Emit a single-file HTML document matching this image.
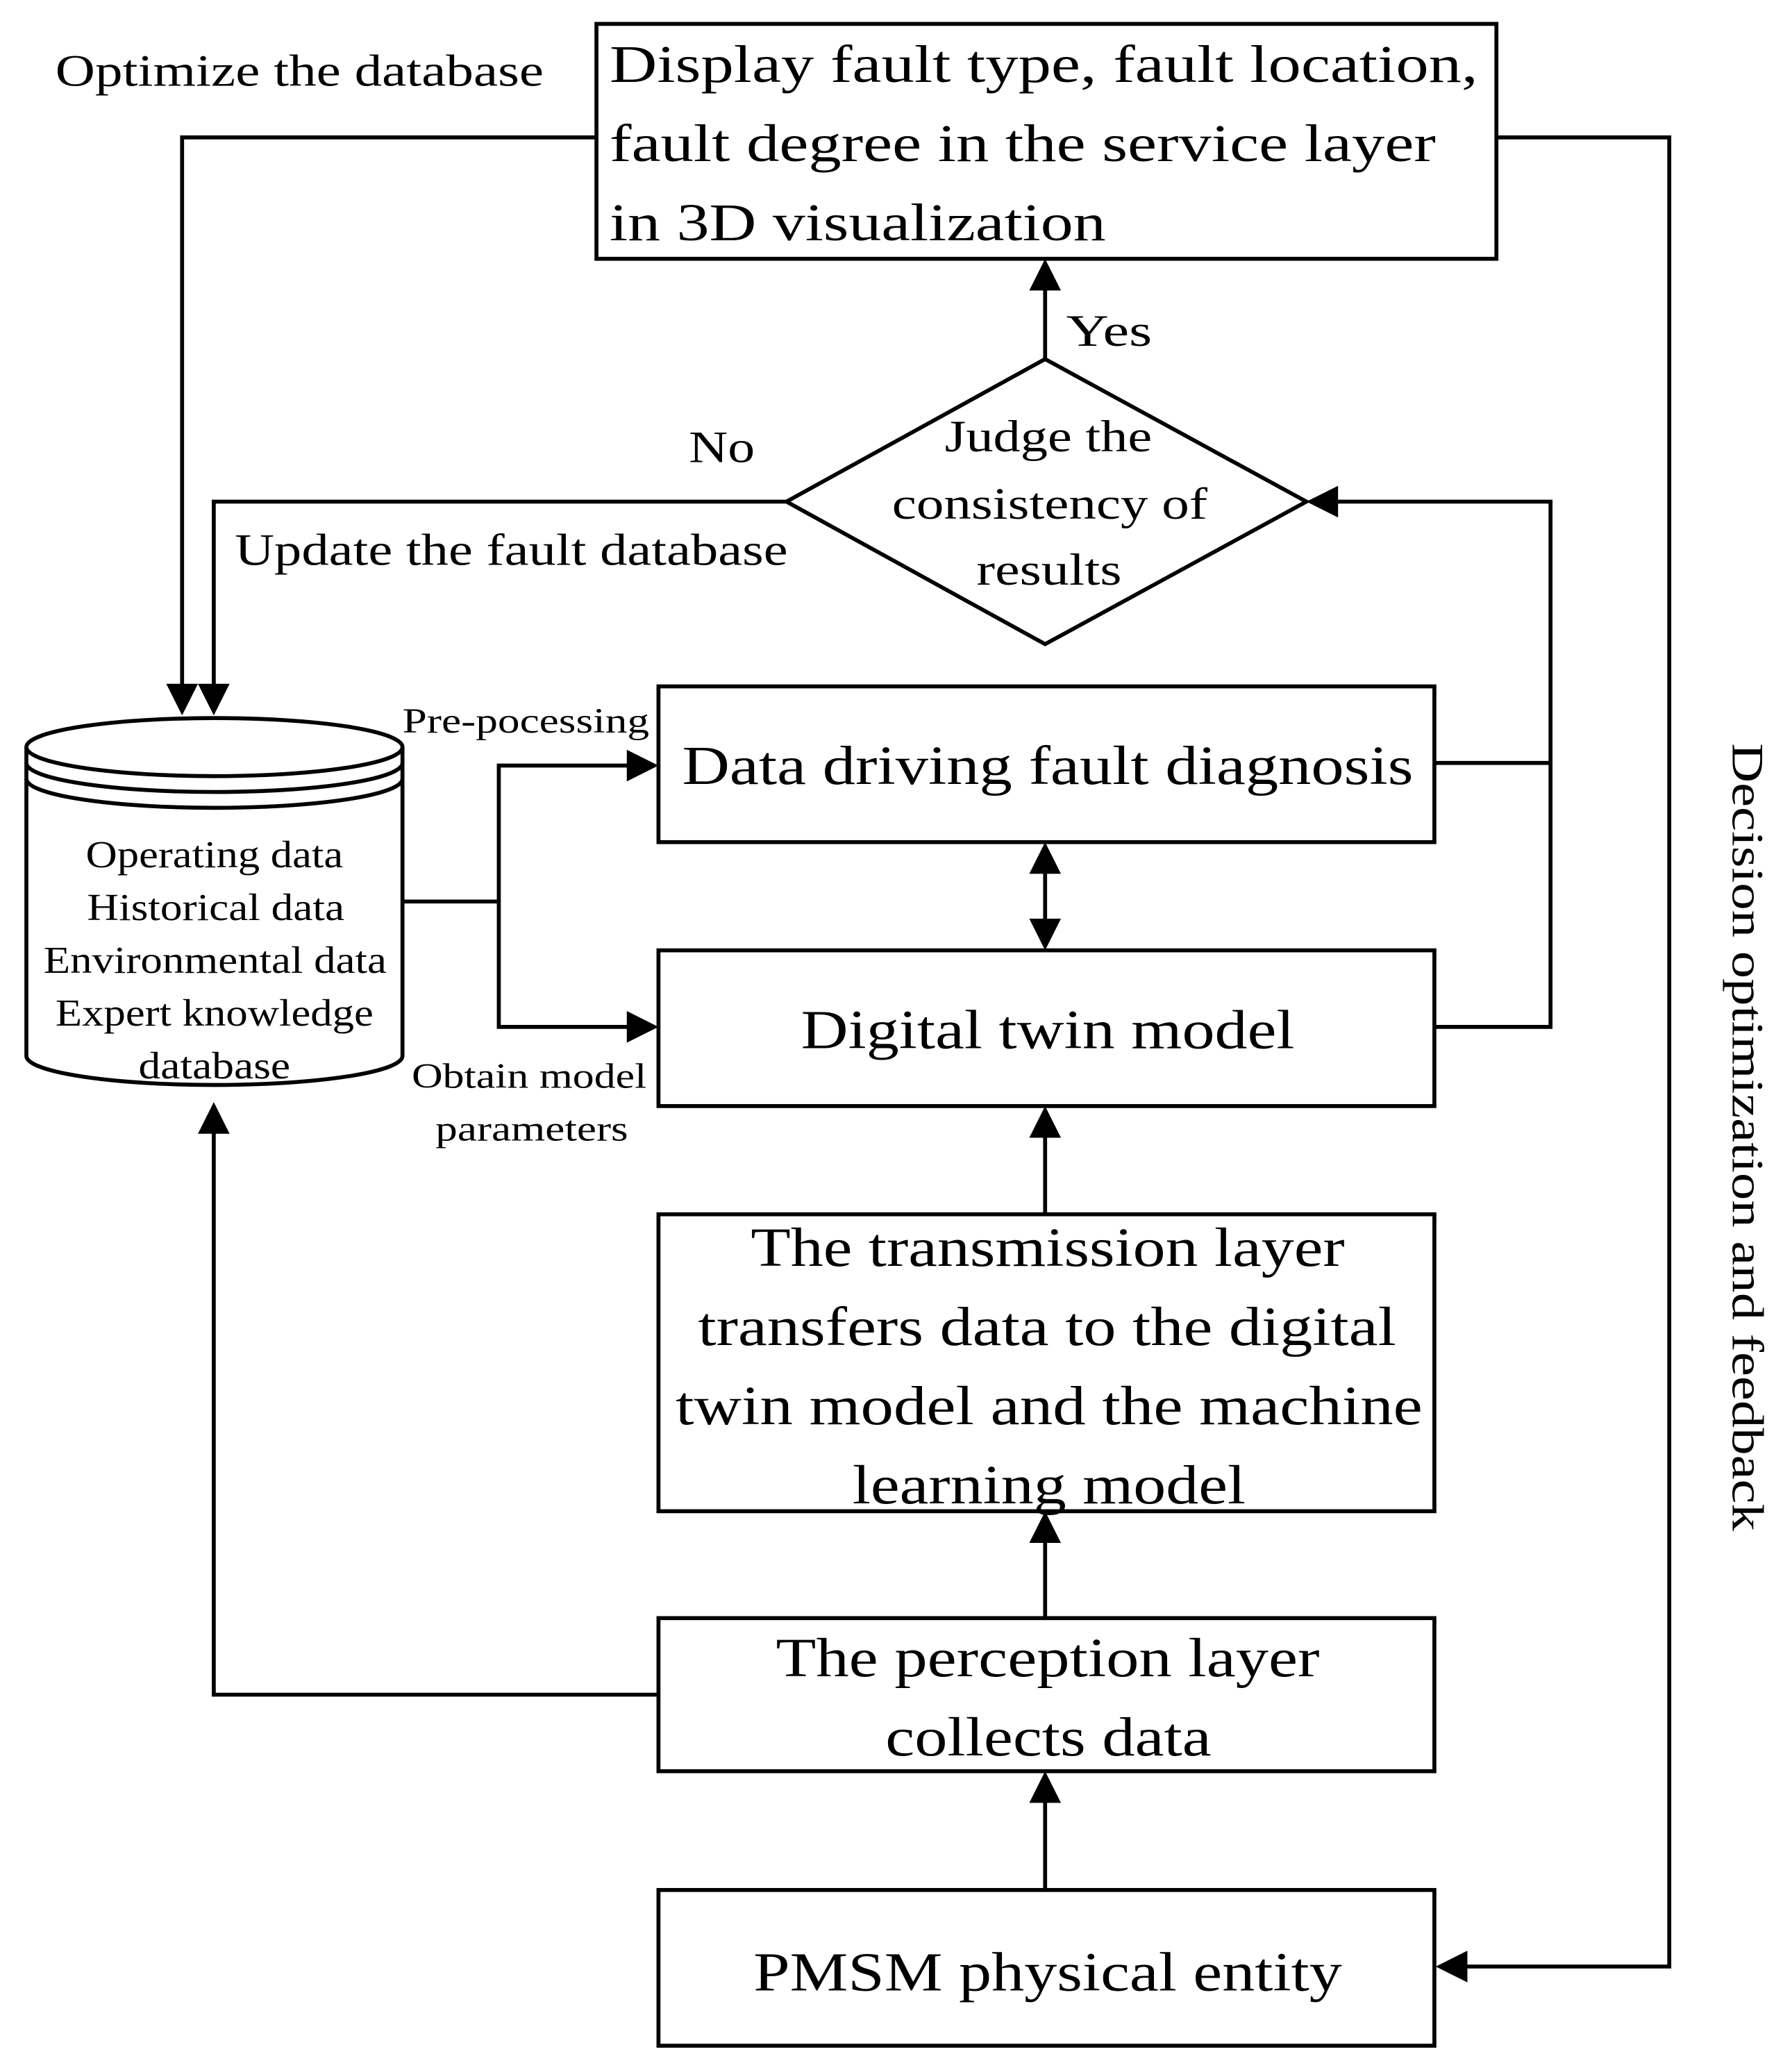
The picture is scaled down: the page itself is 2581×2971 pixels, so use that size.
<!DOCTYPE html>
<html><head><meta charset="utf-8"><style>
html,body{margin:0;padding:0;background:#fff;}
svg{display:block;}
text{font-family:"Liberation Serif",serif;fill:#000;}
</style></head><body>
<svg width="2581" height="2971" viewBox="0 0 1358 1563" xmlns="http://www.w3.org/2000/svg">
<rect width="1358" height="1563" fill="#fff"/>
<g fill="none" stroke="#000" stroke-width="3">
<rect x="452" y="18" width="682" height="178"/>
<rect x="499" y="520" width="588" height="118"/>
<rect x="499" y="720" width="588" height="118"/>
<rect x="499" y="920" width="588" height="225"/>
<rect x="499" y="1226" width="588" height="116"/>
<rect x="499" y="1432" width="588" height="118"/>
<polygon points="792,272 990,380 792,488 596,380"/>
<path d="M20,566 L20,800 A142.5,22 0 0 0 305,800 L305,566"/>
<ellipse cx="162.5" cy="566" rx="142.5" ry="22" fill="#fff"/>
<path d="M20,578 A142.5,22 0 0 0 305,578"/>
<path d="M20,590 A142.5,22 0 0 0 305,590"/>
<polyline points="452,104 138,104 138,520"/>
<polyline points="1134,104 1265,104 1265,1490 1110,1490"/>
<line x1="792" y1="272" x2="792" y2="218"/>
<polyline points="596,380 162,380 162,520"/>
<polyline points="1087,578 1175,578"/>
<polyline points="1087,778 1175,778 1175,380 1012,380"/>
<line x1="792" y1="660" x2="792" y2="698"/>
<line x1="792" y1="920" x2="792" y2="860"/>
<line x1="792" y1="1226" x2="792" y2="1167"/>
<line x1="792" y1="1432" x2="792" y2="1364"/>
<polyline points="499,1284 162,1284 162,857"/>
<polyline points="305,683 378,683"/>
<polyline points="477,580 378,580 378,778 477,778"/>
</g>
<g fill="#000">
<polygon points="138,542 126,518 150,518"/>
<polygon points="162,542 150,518 174,518"/>
<polygon points="1088,1490 1112,1478 1112,1502"/>
<polygon points="792,196 780,220 804,220"/>
<polygon points="990,380 1014,368 1014,392"/>
<polygon points="792,638 780,662 804,662"/>
<polygon points="792,720 780,696 804,696"/>
<polygon points="792,838 780,862 804,862"/>
<polygon points="792,1145 780,1169 804,1169"/>
<polygon points="792,1342 780,1366 804,1366"/>
<polygon points="162,835 150,859 174,859"/>
<polygon points="499,580 475,568 475,592"/>
<polygon points="499,778 475,766 475,790"/>
</g>
<g font-size="40" lengthAdjust="spacingAndGlyphs">
<text x="462" y="62" textLength="658" lengthAdjust="spacingAndGlyphs">Display fault type, fault location,</text>
<text x="462" y="122" textLength="626" lengthAdjust="spacingAndGlyphs">fault degree in the service layer</text>
<text x="462" y="182" textLength="376" lengthAdjust="spacingAndGlyphs">in 3D visualization</text>
</g>
<g font-size="34">
<text x="42" y="65" textLength="370" lengthAdjust="spacingAndGlyphs">Optimize the database</text>
<text x="808" y="262" textLength="65" lengthAdjust="spacingAndGlyphs">Yes</text>
<text x="522" y="350" textLength="50" lengthAdjust="spacingAndGlyphs">No</text>
<text x="178" y="428" textLength="419" lengthAdjust="spacingAndGlyphs">Update the fault database</text>
<text x="716" y="342" textLength="157" lengthAdjust="spacingAndGlyphs">Judge the</text>
<text x="676" y="393" textLength="239" lengthAdjust="spacingAndGlyphs">consistency of</text>
<text x="740" y="443" textLength="110" lengthAdjust="spacingAndGlyphs">results</text>
<text transform="translate(1313,563) rotate(90)" textLength="597" lengthAdjust="spacingAndGlyphs">Decision optimization and feedback</text>
</g>
<g font-size="42">
<text x="517" y="594" textLength="554" lengthAdjust="spacingAndGlyphs">Data driving fault diagnosis</text>
<text x="607" y="794" textLength="374" lengthAdjust="spacingAndGlyphs">Digital twin model</text>
<text x="569" y="959" textLength="450" lengthAdjust="spacingAndGlyphs">The transmission layer</text>
<text x="529" y="1019" textLength="529" lengthAdjust="spacingAndGlyphs">transfers data to the digital</text>
<text x="512" y="1079" textLength="566" lengthAdjust="spacingAndGlyphs">twin model and the machine</text>
<text x="646" y="1139" textLength="298" lengthAdjust="spacingAndGlyphs">learning model</text>
<text x="588" y="1270" textLength="412" lengthAdjust="spacingAndGlyphs">The perception layer</text>
<text x="671" y="1330" textLength="247" lengthAdjust="spacingAndGlyphs">collects data</text>
<text x="571" y="1508" textLength="446" lengthAdjust="spacingAndGlyphs">PMSM physical entity</text>
</g>
<g font-size="29">
<text x="65" y="657" textLength="195" lengthAdjust="spacingAndGlyphs">Operating data</text>
<text x="66" y="697" textLength="195" lengthAdjust="spacingAndGlyphs">Historical data</text>
<text x="33" y="737" textLength="260" lengthAdjust="spacingAndGlyphs">Environmental data</text>
<text x="42" y="777" textLength="241" lengthAdjust="spacingAndGlyphs">Expert knowledge</text>
<text x="105" y="817" textLength="115" lengthAdjust="spacingAndGlyphs">database</text>
</g>
<g font-size="27">
<text x="305" y="555" textLength="187" lengthAdjust="spacingAndGlyphs">Pre-pocessing</text>
<text x="312" y="824" textLength="178" lengthAdjust="spacingAndGlyphs">Obtain model</text>
<text x="330" y="864" textLength="146" lengthAdjust="spacingAndGlyphs">parameters</text>
</g>
</svg>
</body></html>
